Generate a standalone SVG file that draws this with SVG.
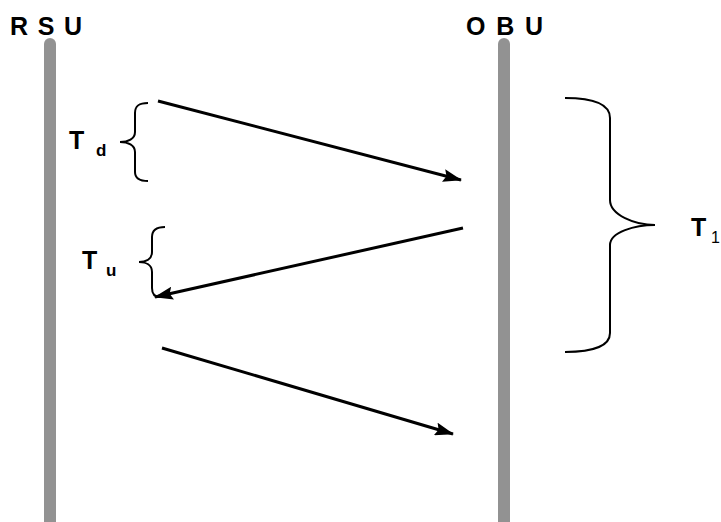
<svg xmlns="http://www.w3.org/2000/svg" width="721" height="522" viewBox="0 0 721 522">
<style>
.lbl{font-family:"Liberation Sans",Arial,sans-serif;font-weight:bold;fill:#000}
.bar{stroke:#929292;stroke-width:12;stroke-linecap:round;fill:none}
.brace{stroke:#000;stroke-width:2;fill:none}
.msg{stroke:#000;stroke-width:3;fill:none}
</style>
<defs>
<marker id="ah" markerUnits="userSpaceOnUse" markerWidth="20" markerHeight="13" refX="18" refY="6.5" orient="auto">
<path d="M0,0 L19,6.5 L0,13 L3,6.5 Z" fill="#000"/>
</marker>
</defs>
<g id="rsu">
<line class="bar" x1="50" y1="44" x2="50" y2="530"/>
<text class="lbl" x="10" y="35" font-size="25" textLength="72" lengthAdjust="spacing">R S U</text>
</g>
<g id="obu">
<line class="bar" x1="504" y1="44" x2="504" y2="530"/>
<text class="lbl" x="466" y="35" font-size="25" textLength="77" lengthAdjust="spacing">O B U</text>
</g>
<g id="td">
<path class="brace" d="M148,103 C140,103 135,105 135,113 L135,132 C135,139 128,142 120,142 C128,142 135,145 135,152 L135,172 C135,179 140,181 148,181"/>
<text class="lbl" x="69" y="149" font-size="25">T</text>
<text class="lbl" x="96" y="156" font-size="17">d</text>
</g>
<g id="tu">
<path class="brace" d="M165,227 C157,227 152,230 152,237 L152,252 C152,259 146,262 139,262 C146,262 152,265 152,272 L152,288 C152,295 155,297 160,297"/>
<text class="lbl" x="82" y="269" font-size="25">T</text>
<text class="lbl" x="106" y="276" font-size="17">u</text>
</g>
<g id="t1">
<path class="brace" d="M565,98 C595,98 610,105 610,118 L610,200 C610,215 635,225 655,225 C635,225 610,232 610,245 L610,333 C610,345 595,352 565,352"/>
<text class="lbl" x="691" y="236" font-size="25">T</text>
<text x="711" y="243" font-size="16" font-family="Liberation Sans,Arial,sans-serif">1</text>
</g>
<g id="connectors">
<line class="msg" x1="158" y1="101" x2="461" y2="180" marker-end="url(#ah)"/>
<line class="msg" x1="463" y1="228" x2="155" y2="297" marker-end="url(#ah)"/>
<line class="msg" x1="162" y1="348" x2="453" y2="434" marker-end="url(#ah)"/>
</g>
</svg>
